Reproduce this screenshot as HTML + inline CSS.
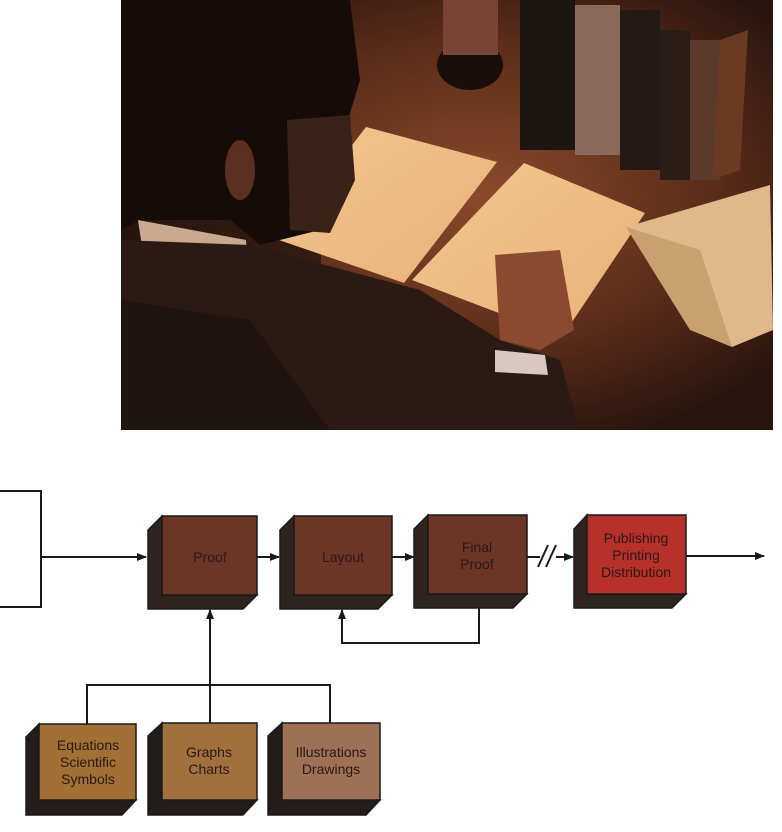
<!DOCTYPE html>
<html><head><style>
html,body{margin:0;padding:0;background:#fff;}
body{width:782px;height:832px;overflow:hidden;position:relative;font-family:"Liberation Sans",sans-serif;}
</style></head><body>
<svg width="782" height="832" viewBox="0 0 782 832" xmlns="http://www.w3.org/2000/svg" style="position:absolute;left:0;top:0">
<defs>
<radialGradient id="lamp" cx="0.55" cy="0.45" r="0.6">
<stop offset="0" stop-color="#8a4a2a"/><stop offset="0.6" stop-color="#5a2c1a"/><stop offset="1" stop-color="#2a150d"/>
</radialGradient>
<linearGradient id="pap" x1="0" y1="0" x2="1" y2="1"><stop offset="0" stop-color="#f3c78e"/><stop offset="1" stop-color="#e8b07a"/></linearGradient>
<marker id="ah" markerWidth="10" markerHeight="8" refX="9" refY="4" orient="auto" markerUnits="userSpaceOnUse"><path d="M0,0 L10,4 L0,8 Z" fill="#1a1a1a"/></marker>
</defs>
<!-- photo -->
<rect x="121" y="0" width="652" height="430" fill="url(#lamp)"/>
<rect x="121" y="0" width="200" height="430" fill="#1f120c" opacity="0.7"/>
<!-- vase -->
<ellipse cx="470" cy="65" rx="33" ry="25" fill="#1a0e0a"/>
<rect x="443" y="0" width="55" height="55" fill="#7a4434"/>
<!-- books -->
<rect x="520" y="0" width="55" height="150" fill="#1c1512"/>
<rect x="575" y="5" width="45" height="150" fill="#8a6a5a"/>
<rect x="620" y="10" width="40" height="160" fill="#231a16"/>
<rect x="660" y="30" width="30" height="150" fill="#2a1d18"/>
<rect x="690" y="40" width="30" height="140" fill="#5a3a2a"/>
<polygon points="720,40 748,30 740,170 712,180" fill="#6a3a22"/>
<!-- papers -->
<polygon points="366,127 497,162 404,283 279,240" fill="url(#pap)"/>
<polygon points="524,163 645,213 562,337 412,280" fill="url(#pap)"/>
<!-- open book -->
<polygon points="626,227 770,185 773,330 732,347" fill="#e0b88a"/>
<polygon points="626,227 700,250 732,347 690,330" fill="#caa070"/>
<!-- man -->
<path d="M121,0 L350,0 L360,80 L345,130 L320,230 L260,245 L230,220 L140,220 L121,230 Z" fill="#150c08"/>
<path d="M287,120 L350,115 L355,180 L330,233 L290,230 Z" fill="#3a2218"/>
<ellipse cx="240" cy="170" rx="15" ry="30" fill="#5a3020"/>
<polygon points="138,220 246,240 250,320 150,300" fill="#c9a890"/>
<path d="M121,240 L250,245 L420,290 L500,340 L560,360 L580,430 L121,430 Z" fill="#2b1a14"/>
<path d="M121,300 L250,320 L330,430 L121,430 Z" fill="#201410"/>
<path d="M495,255 L560,250 L574,330 L540,350 L500,340 Z" fill="#8a4a30"/>
<polygon points="495,350 545,355 548,375 495,372" fill="#d8c8c0"/>
<!-- bracket and lines -->
<g stroke="#1a1a1a" stroke-width="2" fill="none">
<polyline points="0,491 41,491 41,607 0,607"/>
<line x1="41" y1="557" x2="146" y2="557" marker-end="url(#ah)"/>
<line x1="257" y1="557" x2="279" y2="557" marker-end="url(#ah)"/>
<line x1="392" y1="557" x2="414" y2="557" marker-end="url(#ah)"/>
<line x1="527" y1="557" x2="540" y2="557"/>
<line x1="556" y1="557" x2="573" y2="557" marker-end="url(#ah)"/>
<line x1="538" y1="567" x2="548" y2="545"/>
<line x1="546" y1="567" x2="556" y2="545"/>
<line x1="686" y1="556" x2="764" y2="556" marker-end="url(#ah)"/>
<polyline points="479,608 479,643 342,643 342,610" marker-end="url(#ah)"/>
<line x1="210" y1="685" x2="210" y2="610" marker-end="url(#ah)"/>
<polyline points="87,724 87,685 330,685 330,724"/>
<line x1="210" y1="685" x2="210" y2="724"/>
</g>
<!-- boxes -->
<g stroke="#1a1a1a" stroke-width="1.5">
<g>
<polygon points="162,516 148,530 148,609 243,609 257,595 162,595" fill="#2e2420"/>
<rect x="162" y="516" width="95" height="79" fill="#6c3526"/>
</g>
<g>
<polygon points="294,516 280,530 280,609 378,609 392,595 294,595" fill="#2e2420"/>
<rect x="294" y="516" width="98" height="79" fill="#6c3526"/>
</g>
<g>
<polygon points="428,515 414,529 414,608 513,608 527,594 428,594" fill="#2e2420"/>
<rect x="428" y="515" width="99" height="79" fill="#6c3526"/>
</g>
<g>
<polygon points="587,515 574,529 574,608 672,608 686,594 587,594" fill="#2e2420"/>
<rect x="587" y="515" width="99" height="79" fill="#b8302a"/>
</g>
<g>
<polygon points="39,724 26,737 26,815 122,815 136,800 39,800" fill="#231c18"/>
<rect x="39" y="724" width="97" height="76" fill="#a26f35"/>
</g>
<g>
<polygon points="162,723 148,736 148,815 243,815 257,800 162,800" fill="#231c18"/>
<rect x="162" y="723" width="95" height="77" fill="#a0713e"/>
</g>
<g>
<polygon points="282,723 268,736 268,815 366,815 380,800 282,800" fill="#231c18"/>
<rect x="282" y="723" width="98" height="77" fill="#9e7055"/>
</g>
</g>
<g font-family="Liberation Sans, sans-serif" font-size="14" fill="#2a1a14" text-anchor="middle">
<text x="210" y="562">Proof</text>
<text x="343" y="562">Layout</text>
<text x="477" y="552">Final</text>
<text x="477" y="569">Proof</text>
<text x="636" y="543">Publishing</text>
<text x="636" y="560">Printing</text>
<text x="636" y="577">Distribution</text>
<text x="88" y="750">Equations</text>
<text x="88" y="767">Scientific</text>
<text x="88" y="784">Symbols</text>
<text x="209" y="757">Graphs</text>
<text x="209" y="774">Charts</text>
<text x="331" y="757">Illustrations</text>
<text x="331" y="774">Drawings</text>
</g>
</svg>
</body></html>
